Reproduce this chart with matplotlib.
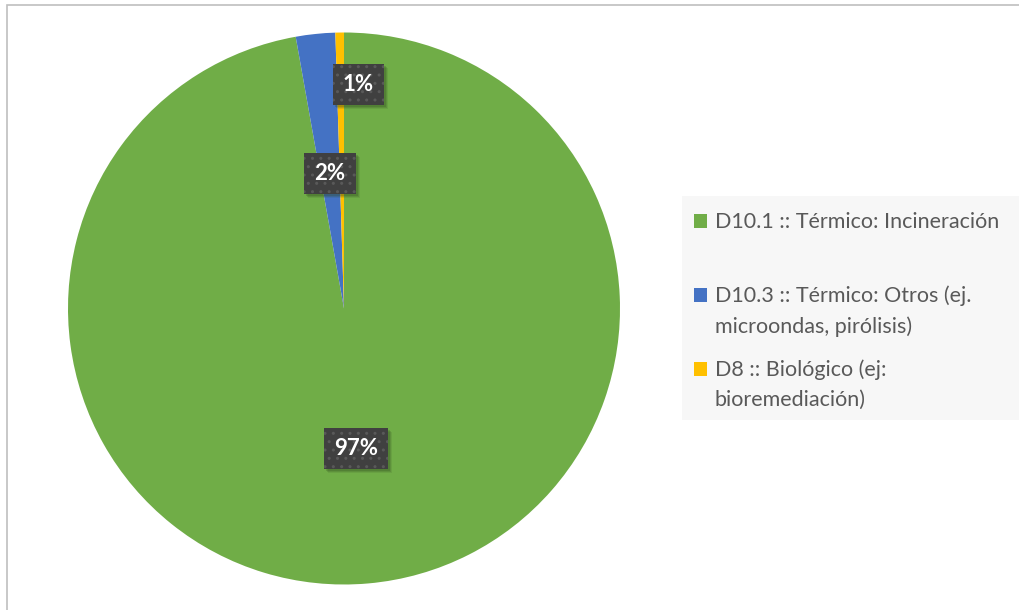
import numpy as np
import matplotlib.pyplot as plt
from matplotlib.patches import Rectangle

# data
categories = ["D10.1 :: Térmico: Incineración",
              "D10.3 :: Térmico: Otros (ej.\nmicroondas, pirólisis)",
              "D8 :: Biológico (ej:\nbioremediación)"]
shares = [97.2, 2.3, 0.5]
colors = ["#70AD47", "#4472C4", "#FFC000"]

W, H = 1020, 610


def fx(px):
    return px / W


def fy(py):
    return 1 - py / H


fig = plt.figure(figsize=(W / 100, H / 100), dpi=100)
fig.patch.set_facecolor("white")

# chart border (right/bottom fall outside the picture)
fig.patches.append(Rectangle((fx(7), fy(640)), fx(1100 - 7), fy(5) - fy(640),
                             transform=fig.transFigure, fill=False,
                             edgecolor="#BFBFBF", linewidth=1.2))

cx, cy, r = 344, 308.5, 276
ax = fig.add_axes([fx(cx - r), fy(cy + r), fx(2 * r), fy(cy - r) - fy(cy + r)])
wedges, _ = ax.pie(shares, colors=colors, startangle=90, counterclock=False,
                   radius=1, wedgeprops=dict(linewidth=0))
ax.set_xlim(-1, 1)
ax.set_ylim(-1, 1)
ax.set_aspect("equal")
ax.axis("off")

# data labels: radial distance and nudge (pixels) per slice
label_dist = [0.51, 0.49, 0.81]
label_dx = [0, 0, 18]
total = sum(shares)
font = ["Lato", "DejaVu Sans"]
labels = []
for w, val, d, dx in zip(wedges, shares, label_dist, label_dx):
    ang = np.deg2rad((w.theta1 + w.theta2) / 2)
    pos = (d * np.cos(ang), d * np.sin(ang))
    lab = "{:d}%".format(int(val / total * 100 + 0.5))
    t = ax.annotate(lab, xy=pos, xytext=(dx * 0.72, 0), textcoords="offset points",
                    ha="center", va="center", color="white", zorder=5,
                    fontsize=16, fontweight="bold", family=font,
                    bbox=dict(boxstyle="square,pad=0.45", facecolor="#404040",
                              edgecolor="#595959", linewidth=0, hatch=".."))
    labels.append(t)

# soft shadow behind each label box
fig.canvas.draw()
for t in labels:
    bb = t.get_bbox_patch().get_window_extent()
    for k, a in [(4, 0.12), (3, 0.18), (2, 0.22)]:
        ax.add_patch(Rectangle((bb.x0 + k, bb.y0 - k), bb.width, bb.height,
                               transform=None, facecolor="#2f4a1e", alpha=a,
                               edgecolor="none", zorder=4))

# legend panel
fig.patches.append(Rectangle((fx(682), fy(420)), fx(1030 - 682), fy(196) - fy(420),
                             transform=fig.transFigure, facecolor="#F7F7F7",
                             edgecolor="none"))
baselines = [[228], [302, 333], [376, 406]]
for cat, col, bl in zip(categories, colors, baselines):
    fig.patches.append(Rectangle((fx(694), fy(bl[0])), fx(13), fy(0) - fy(14),
                                 transform=fig.transFigure, facecolor=col,
                                 edgecolor="none"))
    for line, y in zip(cat.split("\n"), bl):
        fig.text(fx(715), fy(y), line, ha="left", va="baseline",
                 fontsize=15.5, color="#595959", family=font)

fig.savefig("out.png", dpi=100)
